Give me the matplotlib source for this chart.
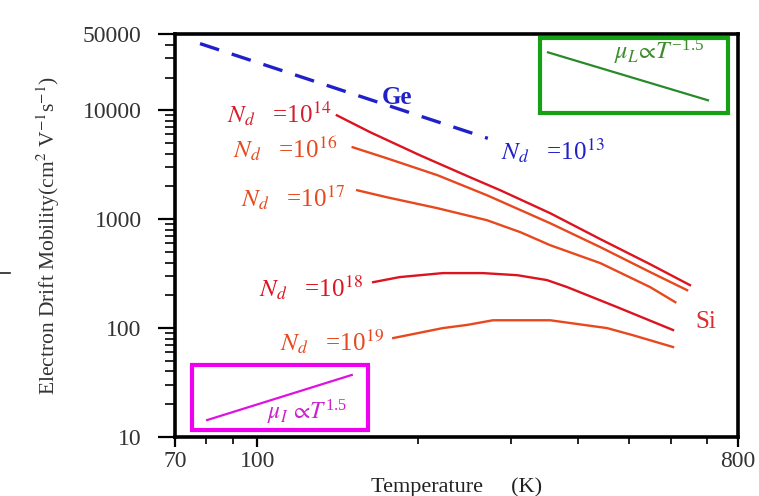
import matplotlib
matplotlib.use("Agg")
import matplotlib.pyplot as plt
from matplotlib.patches import Rectangle
from matplotlib.lines import Line2D
from matplotlib.ticker import FixedLocator, NullFormatter

plt.rcParams['font.family'] = ['Liberation Serif', 'DejaVu Serif']
plt.rcParams['mathtext.fontset'] = 'stix'

# values (T in K, mobility in cm^2 V^-1 s^-1)
ge_T = [78, 271]
ge_mu = [41000, 5530]

si14_T = [141, 163, 202, 251, 286, 355, 441, 547, 650]
si14_mu = [9000, 6285, 3866, 2427, 1845, 1135, 656, 386, 248]

si16_T = [151, 175, 218, 270, 355, 441, 547, 642]
si16_mu = [4580, 3630, 2535, 1660, 918, 554, 327, 223]

si17_T = [154, 175, 218, 270, 312, 355, 441, 547, 610]
si17_mu = [1845, 1592, 1262, 979, 760, 577, 395, 238, 173]

si18_T = [165, 185, 223, 265, 308, 350, 382, 474, 604]
si18_mu = [264, 294, 320, 320, 306, 276, 238, 156, 96]

si19_T = [180, 223, 248, 277, 308, 355, 454, 508, 604]
si19_mu = [81, 100, 107, 118, 118, 118, 100, 86, 67]

x_ticks = [70, 100, 800]
x_minor = [80, 90, 200, 300, 400, 500, 600, 700]
y_ticks = [10, 100, 1000, 10000, 50000]

RED = '#dc1420'
ORANGE = '#e8481e'
BLUE = '#2020c8'

fig = plt.figure(figsize=(7.59, 4.96), dpi=100)
ax = fig.add_axes([0.2306, 0.119, 0.7417, 0.812])

ax.plot(ge_T, ge_mu, color=BLUE, lw=2.4, dashes=(6, 4))
ax.plot(si14_T, si14_mu, color=RED, lw=1.7)
ax.plot(si16_T, si16_mu, color=ORANGE, lw=1.7)
ax.plot(si17_T, si17_mu, color=ORANGE, lw=1.7)
ax.plot(si18_T, si18_mu, color=RED, lw=1.7)
ax.plot(si19_T, si19_mu, color=ORANGE, lw=1.7)

ax.set_xscale('log')
ax.set_yscale('log')
ax.set_xlim(70, 800)
ax.set_ylim(10, 50000)

ax.xaxis.set_major_locator(FixedLocator(x_ticks))
ax.xaxis.set_minor_locator(FixedLocator(x_minor))
ax.set_xticklabels([str(v) for v in x_ticks])
ax.xaxis.set_minor_formatter(NullFormatter())
ax.yaxis.set_major_locator(FixedLocator(y_ticks))
ax.set_yticklabels([str(v) for v in y_ticks])
ax.yaxis.set_minor_locator(FixedLocator(
    [m * 10 ** e for e in range(1, 5) for m in range(2, 10) if m * 10 ** e < 50000]))
ax.yaxis.set_minor_formatter(NullFormatter())

ax.tick_params(axis='both', which='major', direction='out', width=1.6,
               labelsize=17, color='black', labelcolor='#333333')
ax.tick_params(axis='y', which='major', length=12, pad=12)
ax.tick_params(axis='y', which='minor', direction='out', length=7, width=1.2)
ax.tick_params(axis='x', which='major', length=7, pad=3)
ax.tick_params(axis='x', which='minor', direction='out', length=5, width=1.2)
for s in ax.spines.values():
    s.set_linewidth(2.6)

ax.set_ylabel(r'Electron Drift Mobility(cm$^2$ V$^{-1}$s$^{-1}$)', fontsize=15.5,
              color='#333333', labelpad=15)
ax.set_xlabel('Temperature     (K)', fontsize=16, color='#222222', labelpad=4)

# curve labels
lab = dict(fontsize=18, ha='right', va='center')
ax.text(138, 9380, r'$N_d$   =10$^{14}$', color='#d41e2e', **lab)
ax.text(141, 4480, r'$N_d$   =10$^{16}$', color=ORANGE, **lab)
ax.text(146, 1592, r'$N_d$   =10$^{17}$', color=ORANGE, **lab)
ax.text(158, 233, r'$N_d$   =10$^{18}$', color=RED, **lab)
ax.text(173, 74.5, r'$N_d$   =10$^{19}$', color=ORANGE, **lab)
ax.text(450, 4300, r'$N_d$   =10$^{13}$', color=BLUE, **lab)
ax.text(183, 13000, 'Ge', color=BLUE, fontsize=18, fontweight='bold',
        ha='center', va='center')
ax.text(697, 113, 'Si', color='#d83030', fontsize=18, ha='center', va='center')

# inset boxes
ax.add_patch(Rectangle((0.648, 0.804), 0.334, 0.186, transform=ax.transAxes,
                       fill=False, edgecolor='#16a016', lw=3))
ax.add_line(Line2D([0.6625, 0.9467], [0.955, 0.836], transform=ax.transAxes,
                   color='#2a8a2a', lw=1.6))
ax.text(0.86, 0.955, r'$\mu_L\!\propto\!T^{\mathregular{-1.5}}$', transform=ax.transAxes,
        color='#3c8c2c', fontsize=17.5, ha='center', va='center')

ax.add_patch(Rectangle((0.030, 0.017), 0.313, 0.162, transform=ax.transAxes,
                       fill=False, edgecolor='#f000f0', lw=3))
ax.add_line(Line2D([0.057, 0.314], [0.042, 0.154], transform=ax.transAxes,
                   color='#e010e0', lw=1.6))
ax.text(0.234, 0.062, r'$\mu_I\,\propto\!T^{\mathregular{1.5}}$', transform=ax.transAxes,
        color='#cc22cc', fontsize=17, ha='center', va='center')

# small stray dash at the left edge of the original
fig.add_artist(Line2D([0.0, 0.013], [0.45, 0.45], color='#222222', lw=1.2))

fig.savefig('out.png', dpi=100)
